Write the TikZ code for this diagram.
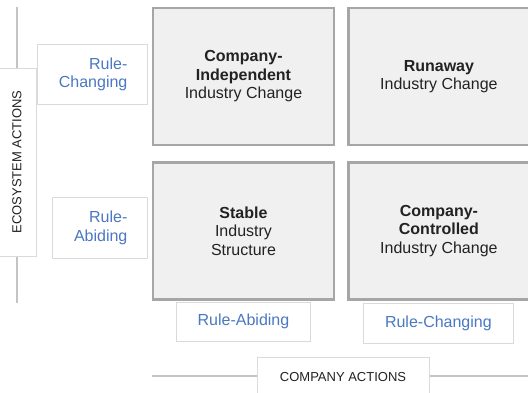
\documentclass[tikz,border=0pt]{standalone}
\usepackage{fontspec}
\setmainfont{Liberation Sans}
\usetikzlibrary{positioning}
\definecolor{quadfill}{HTML}{F0F0F0}
\definecolor{quadline}{HTML}{A6A6A6}
\definecolor{tagline}{HTML}{DADADA}
\definecolor{tagblue}{HTML}{4A78C2}
\definecolor{axisgray}{HTML}{C4C4C4}
\definecolor{ink}{HTML}{222222}

\begin{document}
\begin{tikzpicture}[
  x=1pt, y=-1pt,
  quad/.style={draw=quadline, line width=2.4pt, fill=quadfill, align=center, text=ink,
    minimum width=181pt, minimum height=137pt, inner sep=0pt,
    font=\fontsize{16}{18.5}\selectfont},
  tag/.style={draw=tagline, line width=0.8pt, fill=white, text=tagblue,
    font=\fontsize{16}{18.5}\selectfont},
  sidetag/.style={tag, align=right, inner xsep=20pt, minimum height=60pt},
  axistag/.style={draw=tagline, line width=0.8pt, fill=white, text=ink,
    inner sep=0pt, font=\fontsize{13}{15}\selectfont},
  axis/.style={draw=axisgray, line width=1.2pt}
]
\useasboundingbox (0,0) rectangle (528,393);

% axis lines sit behind their caption boxes
\coordinate (ytop) at (17,7);
\coordinate (ybot) at (17,303);
\coordinate (xleft) at (152,376);
\coordinate (xright) at (532,376);
\draw[axis] (ytop) -- (ybot);
\draw[axis] (xleft) -- (xright);

% the four quadrants
\node[quad] (tl) at (243.5,76.5) {\textbf{Company-}\\\textbf{Independent}\\Industry Change};
\node[quad, right=12pt of tl] (tr) {\textbf{Runaway}\\Industry Change};
\node[quad, below=15pt of tl] (bl) {\textbf{Stable}\\Industry\\Structure};
\node[quad, right=12pt of bl] (br) {\textbf{Company-}\\\textbf{Controlled}\\Industry Change};

% row and column tags
\node[sidetag, text width=70pt, left=4pt of tl, yshift=2pt] (rowtop) {Rule-\\Changing};
\node[sidetag, text width=55pt, left=4pt of bl, yshift=3pt] (rowbot) {Rule-\\Abiding};
\node[tag, minimum width=134pt, minimum height=39pt, below=1pt of bl] (colleft) {Rule-Abiding};
\node[tag, minimum width=150pt, minimum height=40pt, below=2pt of br, xshift=-0.5pt] (colright) {Rule-Changing};

% axis captions
\node[axistag, minimum width=172pt, minimum height=40pt] (xcap) at (343,377) {COMPANY ACTIONS};
\node[axistag, rotate=90, minimum width=188pt, minimum height=38pt] (ycap) at (17,162) {ECOSYSTEM ACTIONS};
\end{tikzpicture}
\end{document}
